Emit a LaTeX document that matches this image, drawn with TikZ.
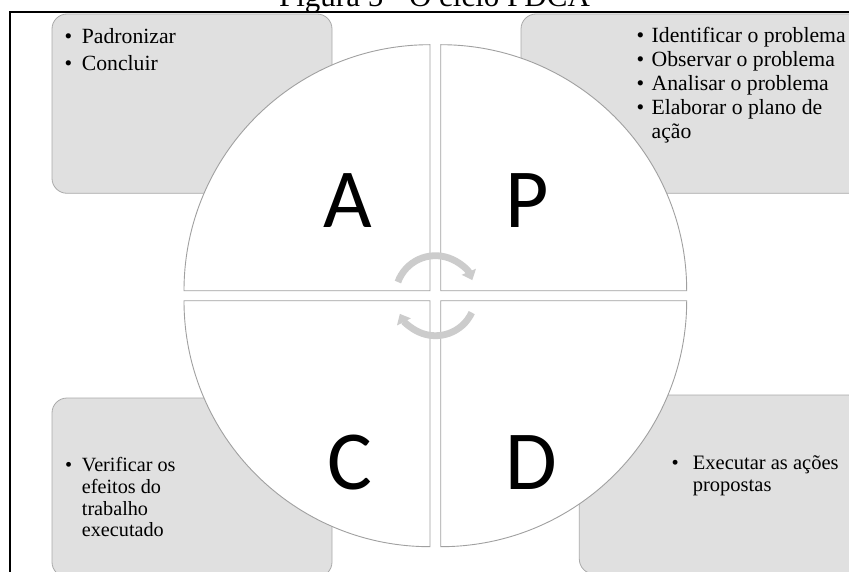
\documentclass[tikz,border=0pt]{standalone}
\usepackage{fontspec}
\setmainfont{Liberation Serif}
\newfontfamily\carlitofam{Carlito}
\usetikzlibrary{arrows.meta}
\definecolor{boxfill}{RGB}{224,224,224}
\definecolor{boxline}{RGB}{170,170,170}
\definecolor{quadline}{RGB}{160,160,160}
\definecolor{arrowgray}{RGB}{204,204,204}
\newcommand{\pdcabul}[1]{\makebox[#1][l]{\textbullet}}
\begin{document}
\begin{tikzpicture}[x=1pt,y=-1pt,
  graybox/.style={fill=boxfill,draw=boxline,line width=0.8pt,rounded corners=15pt},
  quad/.style={fill=white,draw=quadline,line width=0.9pt},
  letter/.style={font=\carlitofam\fontsize{84}{84}\selectfont,anchor=base,inner sep=0pt},
  bullets/.style={anchor=base west,inner sep=0pt,align=left},
  cyc/.style={draw=arrowgray,line width=6.8pt,-{Triangle[width=15pt,length=9pt]}}
]
\clip (0,0) rectangle (849,572);
\fill[white] (0,0) rectangle (849,572);
% title (cut off at the top)
\node[font=\fontsize{31}{31}\selectfont,anchor=base,inner sep=0pt] (title) at (434.5,6.2) {Figura 5 - O ciclo PDCA};
% frame
\draw[line width=1.6pt] (9.7,12.3) rectangle (880,600);
% gray boxes
\draw[graybox] (52,14) rectangle (332,193.3);
\draw[graybox] (521,14) rectangle (863,193.3);
\draw[graybox] (52,398) rectangle (332,577);
\draw[graybox] (579.3,395) rectangle (863,574);
% quadrant corners
\coordinate (qa) at (430,290.7);
\coordinate (qp) at (440.7,290.7);
\coordinate (qc) at (430,300.7);
\coordinate (qd) at (440.7,300.7);
\draw[quad] (qa) -- ++(-246,0) arc[start angle=180,end angle=270,radius=246] -- cycle;
\draw[quad] (qp) -- ++(0,-246) arc[start angle=270,end angle=360,radius=246] -- cycle;
\draw[quad] (qc) -- ++(-246,0) arc[start angle=180,end angle=90,radius=246] -- cycle;
\draw[quad] (qd) -- ++(246,0) arc[start angle=0,end angle=90,radius=246] -- cycle;
% letters
\node[letter] (la) at (348,228) {A};
\node[letter] (lp) at (527,228) {P};
\node[letter] (lc) at (350,489) {C};
\node[letter] (ld) at (531,489) {D};
% central cycle arrows
\coordinate (cc) at (435.5,295.7);
\draw[cyc] (cc) ++(-160:40) arc[start angle=-160,end angle=-23,radius=40];
\draw[cyc] (cc) ++(25:40) arc[start angle=25,end angle=153,radius=40];
% texts (node placed at the baseline of its last line)
\node[bullets,font=\fontsize{21.7}{27.3}\selectfont] (ta) at (64.5,70.8)
  {\pdcabul{17.2pt}Padronizar\\\pdcabul{17.2pt}Concluir};
\node[bullets,font=\fontsize{21.7}{24}\selectfont] (tp) at (636.5,138.7)
  {\pdcabul{15pt}Identificar o problema\\\pdcabul{15pt}Observar o problema\\\pdcabul{15pt}Analisar o problema\\\pdcabul{15pt}Elaborar o plano de\\\hspace*{15pt}ação};
\node[bullets,font=\fontsize{20.2}{21.7}\selectfont] (tc) at (64.8,536.8)
  {\pdcabul{16.9pt}Verificar os\\\hspace*{16.9pt}efeitos do\\\hspace*{16.9pt}trabalho\\\hspace*{16.9pt}executado};
\node[bullets,font=\fontsize{20.5}{21.7}\selectfont] (td) at (671.4,491)
  {\pdcabul{21.3pt}Executar as ações\\\hspace*{21.3pt}propostas};
\end{tikzpicture}
\end{document}
